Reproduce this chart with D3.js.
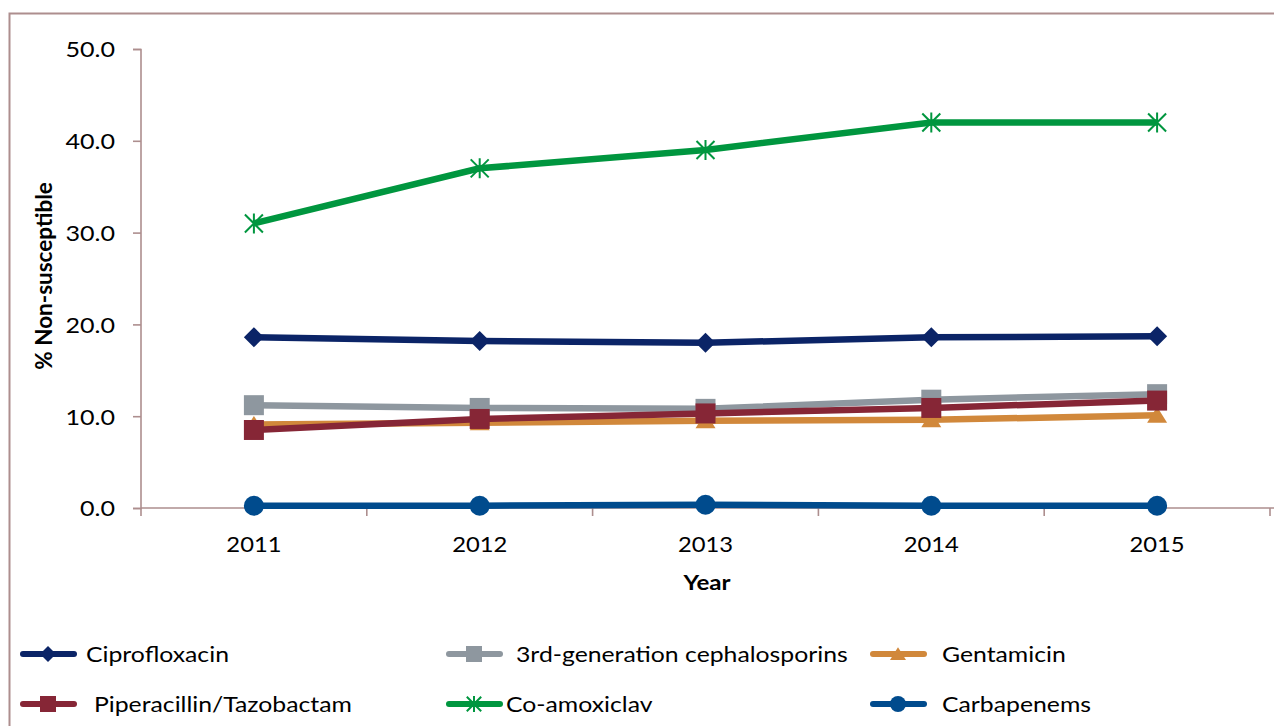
<!DOCTYPE html>
<html><head><meta charset="utf-8">
<script src="https://cdn.jsdelivr.net/npm/d3@7"></script>
<style>body{margin:0;background:#fff;} text{font-family:Lato,"Open Sans",sans-serif;}</style>
</head><body><svg id="c" width="1274" height="726"></svg>
<script>
const years = ["2011","2012","2013","2014","2015"];
const yTicks = [0,10,20,30,40,50];
const cipro = [18.6,18.2,18.0,18.6,18.7];
const ceph3 = [11.2,10.9,10.8,11.8,12.4];
const genta = [9.1,9.3,9.5,9.6,10.1];
const pipTaz = [8.5,9.7,10.3,10.9,11.7];
const coAmox = [31.0,37.0,39.0,42.0,42.0];
const carba = [0.25,0.25,0.35,0.25,0.25];

const series = [
  {name:"Ciprofloxacin", values:cipro, color:"#0B2467", marker:"diamond"},
  {name:"3rd-generation cephalosporins", values:ceph3, color:"#8E979F", marker:"square"},
  {name:"Gentamicin", values:genta, color:"#D1883B", marker:"triangle"},
  {name:"Piperacillin/Tazobactam", values:pipTaz, color:"#862636", marker:"square"},
  {name:"Co-amoxiclav", values:coAmox, color:"#00963F", marker:"star"},
  {name:"Carbapenems", values:carba, color:"#004B8D", marker:"circle"}
];
const drawOrder = [4,0,1,2,3,5];
const SX = 1.18; // horizontal stretch of the source picture's text

const svg = d3.select("#c");
const axisColor = "#AD8E8E";
svg.append("rect").attr("x",9.5).attr("y",13.5).attr("width",1300).attr("height",800)
  .attr("fill","none").attr("stroke",axisColor).attr("stroke-width",2);

const x = d3.scaleBand().domain(years).range([141,1270]);
const y = d3.scaleLinear().domain([0,50]).range([508,49]);

// y axis
const gy = svg.append("g").attr("transform","translate(141,0)")
  .call(d3.axisLeft(y).tickValues(yTicks).tickFormat(d3.format(".1f")).tickSize(8));
gy.select(".domain").attr("stroke",axisColor).attr("stroke-width",1.6).attr("d","M-8,49.5H0V508.5H-8");
gy.selectAll(".tick line").attr("stroke",axisColor).attr("stroke-width",1.6);
gy.selectAll(".tick text").attr("font-size",22).attr("fill","#000").style("font-family","Lato,sans-serif")
  .attr("x",0).attr("dy","0.36em").attr("transform",`translate(-26,0) scale(1.14,1)`);

// x axis
const gx = svg.append("g").attr("transform","translate(0,508)");
gx.append("line").attr("x1",141).attr("x2",1274).attr("y1",0).attr("y2",0).attr("stroke",axisColor).attr("stroke-width",1.6);
const bounds = years.map(d=>x(d)).concat([x.range()[1]]);
gx.selectAll("line.t").data(bounds).enter().append("line").attr("class","t")
  .attr("x1",d=>d).attr("x2",d=>d).attr("y1",0).attr("y2",8).attr("stroke",axisColor).attr("stroke-width",1.6);
gx.selectAll("text").data(years).enter().append("text")
  .attr("transform",d=>`translate(${x(d)+x.bandwidth()/2},44) scale(1.08,1)`).attr("text-anchor","middle")
  .attr("font-size",22).attr("fill","#000").text(d=>d);

// titles
svg.append("text").attr("transform","translate(707,590) scale(1.15,1)").attr("text-anchor","middle")
  .attr("font-size",21).attr("font-weight","bold").text("Year");
svg.append("text").attr("transform","translate(52,276) rotate(-90)").attr("text-anchor","middle")
  .attr("font-size",22.5).attr("font-weight","bold").text("% Non-susceptible");

function markerPath(type, r){
  switch(type){
    case "diamond": return `M0,${-r}L${r},0L0,${r}L${-r},0Z`;
    case "square": return `M${-r},${-r}H${r}V${r}H${-r}Z`;
    case "triangle": return `M0,${-r*0.85}L${r},${r*0.75}H${-r}Z`;
    case "circle": return `M0,${-r}A${r},${r} 0 1,1 0,${r}A${r},${r} 0 1,1 0,${-r}Z`;
    case "star": return `M${-r*0.9},${-r*0.9}L${r*0.9},${r*0.9}M${-r*0.9},${r*0.9}L${r*0.9},${-r*0.9}M0,${-r}V${r}`;
  }
}
function drawMarker(g, s, cx, cy, r){
  const p = g.append("path").attr("d",markerPath(s.marker,r)).attr("transform",`translate(${cx},${cy})`);
  if(s.marker==="star"){ p.attr("fill","none").attr("stroke",s.color).attr("stroke-width",2); }
  else p.attr("fill",s.color);
}

const cx = d=>x(d)+x.bandwidth()/2;
const line = d3.line().x((v,i)=>cx(years[i])).y(v=>y(v));
drawOrder.forEach(k=>{
  const s = series[k];
  const g = svg.append("g");
  g.append("path").datum(s.values).attr("d",line).attr("fill","none")
    .attr("stroke",s.color).attr("stroke-width",6.5);
  s.values.forEach((v,i)=>drawMarker(g,s,cx(years[i]),y(v),10));
});

// legend
const legLine = [[20,654],[446,654],[870,654],[20,704],[446,704],[870,704]];
const textX = [86,516,942,94,506,942];
series.forEach((s,i)=>{
  const [lx,ly] = legLine[i];
  const g = svg.append("g");
  g.append("line").attr("x1",lx+3).attr("x2",lx+54).attr("y1",ly).attr("y2",ly)
    .attr("stroke",s.color).attr("stroke-width",6).attr("stroke-linecap","round");
  drawMarker(g,s,lx+28,ly,8);
  g.append("text").attr("transform",`translate(${textX[i]},${ly+8}) scale(${SX},1)`)
    .attr("font-size",21).attr("fill","#000").text(s.name);
});
</script></body></html>
